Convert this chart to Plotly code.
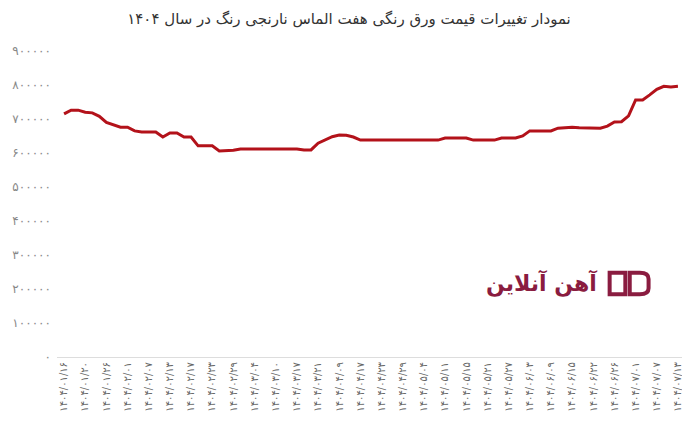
import plotly.graph_objects as go

def fa(s):
    # convert latin digits to persian digits
    return str(s).translate(str.maketrans("0123456789", "۰۱۲۳۴۵۶۷۸۹"))

title_text = "نمودار تغییرات قیمت ورق رنگی هفت الماس نارنجی رنگ در سال ۱۴۰۴"

dates = [
    "1404/01/16", "1404/01/20", "1404/01/26", "1404/02/01", "1404/02/07",
    "1404/02/13", "1404/02/17", "1404/02/23", "1404/02/29", "1404/03/04",
    "1404/03/10", "1404/03/17", "1404/03/21", "1404/04/09", "1404/04/17",
    "1404/04/23", "1404/04/29", "1404/05/04", "1404/05/11", "1404/05/15",
    "1404/05/21", "1404/05/27", "1404/06/03", "1404/06/09", "1404/06/15",
    "1404/06/22", "1404/06/26", "1404/07/01", "1404/07/07", "1404/07/13",
]

# price (rial), one value per trading record, a date label every 3rd record
prices = [
    715000, 726000, 726000, 720000, 718000, 708000, 690000, 682000, 676000, 676000,
    665000, 662000, 662000, 662000, 647000, 659000, 659000, 647000, 647000, 621000,
    621000, 621000, 606000, 606000, 608000, 612000, 612000, 612000, 612000, 612000,
    612000, 612000, 612000, 612000, 609000, 609000, 629000, 638000, 648000, 653000,
    652000, 647000, 638000, 638000, 638000, 638000, 638000, 638000, 638000, 638000,
    638000, 638000, 638000, 638000, 644000, 644000, 644000, 644000, 638000, 638000,
    638000, 638000, 644000, 644000, 644000, 650000, 665000, 665000, 665000, 665000,
    673000, 674000, 676000, 674000, 673000, 673000, 673000, 679000, 691000, 692000,
    709000, 756000, 756000, 771000, 787000, 796000, 794000, 796000,
]

label_step = 3
y_ticks = list(range(0, 900001, 100000))

idx = list(range(len(prices)))

fig = go.Figure()
fig.add_trace(go.Scatter(
    x=idx, y=prices, mode="lines",
    line=dict(color="#b3121a", width=3),
    hoverinfo="skip",
))

# page body has an 8px margin, so the figure is sized 8px smaller
fig.update_layout(
    width=682, height=423,
    margin=dict(l=49, r=5, t=43, b=74),
    paper_bgcolor="white", plot_bgcolor="white",
    showlegend=False,
    title=dict(text=title_text, x=0.5, xanchor="center", y=0.975, yanchor="middle",
               font=dict(family="DejaVu Sans", size=15, color="#333")),
    xaxis=dict(
        range=[-1, len(prices)],
        tickmode="array",
        tickvals=[i * label_step for i in range(len(dates))],
        ticktext=[fa(d) for d in dates],
        tickangle=-90,
        tickfont=dict(family="DejaVu Sans", size=10, color="#666"),
        showgrid=False, zeroline=False,
        showline=True, linecolor="#dddddd", linewidth=1,
        ticks="",
        automargin=False,
    ),
    yaxis=dict(
        range=[0, 900000],
        tickmode="array",
        tickvals=y_ticks,
        ticktext=[fa(v) for v in y_ticks],
        tickfont=dict(family="DejaVu Sans", size=12, color="#888"),
        showgrid=False, zeroline=False, showline=False,
        ticks="",
        ticklabelstandoff=5,
        automargin=False,
    ),
)

# watermark logo
logo_color = "#8a1c40"
fig.add_annotation(
    xref="paper", yref="paper", x=0.772, y=0.242, xanchor="center", yanchor="middle",
    text="<b>آهن آنلاین</b>", showarrow=False,
    font=dict(family="DejaVu Sans", size=22, color=logo_color),
)
fig.add_shape(type="path", xref="paper", yref="paper",
              path="M 0.905 0.205 L 0.88 0.205 L 0.88 0.275 L 0.905 0.275 Z",
              line=dict(color=logo_color, width=4))
fig.add_shape(type="path", xref="paper", yref="paper",
              path="M 0.912 0.205 L 0.928 0.205 Q 0.942 0.205 0.942 0.225 L 0.942 0.255 "
                   "Q 0.942 0.275 0.928 0.275 L 0.912 0.275 Z",
              line=dict(color=logo_color, width=4))

fig.write_html("out.html")
